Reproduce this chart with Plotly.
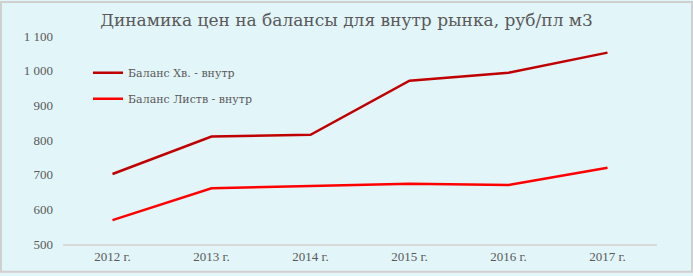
import plotly.graph_objects as go

years = ["2012 г.", "2013 г.", "2014 г.", "2015 г.", "2016 г.", "2017 г."]
hv_values = [702, 810, 815, 971, 994, 1052]
list_values = [569, 661, 667, 674, 670, 720]
series_names = ["Баланс Хв. - внутр", "Баланс Листв - внутр"]
y_tickvals = [500, 600, 700, 800, 900, 1000, 1100]
y_ticktext = ["500", "600", "700", "800", "900", "1 000", "1 100"]
title_text = "Динамика цен на балансы для внутр рынка, руб/пл м3"

W, H = 693, 276
ml, mr, mt, mb = 63, 36, 35.5, 29.3
pw, ph = W - ml - mr, H - mt - mb

fig = go.Figure()
fig.add_trace(go.Scatter(x=years, y=hv_values, mode="lines", name=series_names[0],
                         line=dict(color="#C00000", width=2.5), legendgroup="a"))
fig.add_trace(go.Scatter(x=years, y=list_values, mode="lines", name=series_names[1],
                         line=dict(color="#FF0000", width=2.5), legendgroup="b"))

font_family = "DejaVu Serif"
tick_family = "Liberation Serif"
fig.update_layout(
    width=W, height=H,
    margin=dict(l=ml, r=mr, t=mt, b=mb, pad=0),
    paper_bgcolor="#E2F5F8",
    plot_bgcolor="#E2F5F8",
    font=dict(family=tick_family, color="#595959", size=13),
    title=dict(text=title_text, x=0.5, xanchor="center", y=1 - 20 / H, yanchor="middle",
               font=dict(size=17, color="#595959", family=font_family)),
    showlegend=True,
    legend=dict(x=(88 - ml) / pw, y=1 - (58 - mt) / ph, xanchor="left", yanchor="top",
                bgcolor="rgba(0,0,0,0)", font=dict(size=11, color="#595959", family=font_family),
                traceorder="grouped", tracegroupgap=7, itemwidth=30),
    xaxis=dict(showgrid=False, showline=True, linecolor="#D9D9D9", linewidth=1.5,
               range=[-0.5, 5.5], ticks="", tickfont=dict(size=13, color="#595959"),
               zeroline=False),
    yaxis=dict(range=[500, 1100], tickvals=y_tickvals, ticktext=y_ticktext,
               showgrid=False, showline=False, zeroline=False, ticks="",
               tickfont=dict(size=13, color="#595959"), ticklabelstandoff=9),
)
fig.add_shape(type="rect", xref="paper", yref="paper",
              x0=(1 - ml) / pw, x1=(W - 1 - ml) / pw,
              y0=-(mb - 1) / ph, y1=1 + (mt - 1) / ph,
              line=dict(color="#D0D0D0", width=2), fillcolor="rgba(0,0,0,0)", layer="above")
fig.write_html("out.html")
